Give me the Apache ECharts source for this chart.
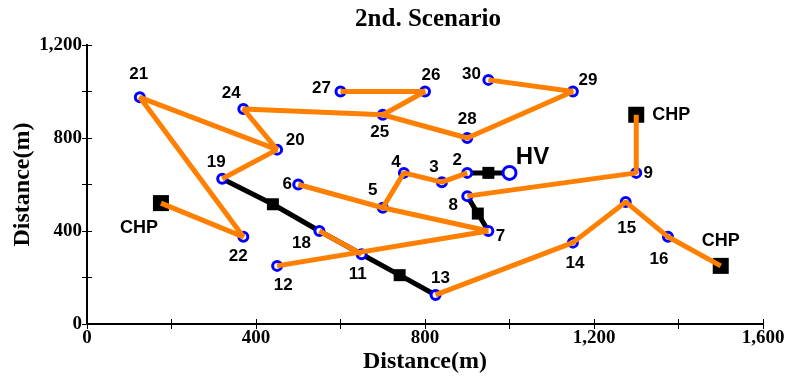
<!DOCTYPE html>
<html>
<head>
<meta charset="utf-8">
<script src="https://cdn.jsdelivr.net/npm/echarts@6/dist/echarts.min.js"></script>
<style>html,body{margin:0;padding:0;background:#fff}#c{width:787px;height:376px}</style>
</head>
<body>
<div id="c"></div>
<script>
// ---- data ----
var nodeNames = ['2','3','4','5','6','7','8','9','11','12','13','14','15','16','18','19','20','21','22','24','25','26','27','28','29','30'];
var nodeX = [900,840,750,700,500,950,900,1300,650,450,825,1150,1275,1375,550,320,450,125,370,370,700,800,600,900,1150,950];
var nodeY = [650,610,650,500,600,400,550,650,300,250,125,350,525,375,400,625,750,975,375,925,900,1000,1000,800,1000,1050];
var hvName = 'HV';
var hvPoint = [1000, 650];
var chpNames = ['CHP_L','CHP_U','CHP_R'];
var chpX = [175,1300,1500];
var chpY = [520,900,250];
var junctionX = [440,740,950,925];
var junctionY = [515,210,650,475];
var orangePaths = [
  ['CHP_L','22','21','20','24','25','26','27'],
  ['25','28','29','30'],
  ['20','19'],
  ['18','11'],
  ['12','7'],
  ['6','5','7'],
  ['5','4','3','2'],
  ['13','14','15','16','CHP_R'],
  ['8','9','CHP_U']
];
var blackPaths = [
  ['19','J0','18','11','J1','13'],
  ['2','J2','HV'],
  ['8','J3','7']
];
var xTicks = [0,400,800,1200,1600];
var yTicks = [0,400,800,1200];

// ---- label placement (pixel offsets) ----
var labelOffset = {
  '21':[-1,-23],'24':[-12,-16],'27':[-19,-3],'26':[6,-16],'25':[-3,18],'20':[18,-9],'19':[-6,-16],
  '6':[-11,0],'5':[-10,-17],'4':[-8,-11],'3':[-8,-15],'2':[-10,-13],'HV':[23,-16],'30':[-17,-6],
  '29':[15,-11],'28':[0,-19],'9':[12,0],'8':[-14,9],'7':[12,5],'15':[1,26],'14':[2,21],'16':[-9,22],
  '13':[5,-17],'18':[-18,12],'11':[-4,20],'12':[6,19],'22':[-5,19],
  'CHP_U':[35,0],'CHP_R':[0,-25],'CHP_L':[-22,25]
};

// ---- build ----
var pos = {};
nodeNames.forEach(function(n,i){ pos[n] = [nodeX[i], nodeY[i]]; });
pos[hvName] = hvPoint;
chpNames.forEach(function(n,i){ pos[n] = [chpX[i], chpY[i]]; });
junctionX.forEach(function(x,i){ pos['J'+i] = [x, junctionY[i]]; });

var series = [];
var ORANGE = '#FF8000';
var lblBase = {show:true, position:'inside', color:'#000', fontFamily:'Liberation Sans', fontWeight:'bold', opacity:1};
blackPaths.forEach(function(p){
  series.push({type:'line', data:p.map(function(n){return pos[n];}), showSymbol:false, symbol:'none',
    lineStyle:{color:'#000', width:5, opacity:1}, z:1, silent:true, animation:false});
});
series.push({type:'scatter', symbol:'rect', symbolSize:12, z:2, animation:false, silent:true,
  itemStyle:{color:'#000', opacity:1},
  data: junctionX.map(function(x,i){return [x, junctionY[i]];})});
series.push({type:'scatter', symbol:'rect', symbolSize:16, z:2, animation:false, silent:true,
  itemStyle:{color:'#000', opacity:1},
  data: chpNames.map(function(n,i){return {value:[chpX[i],chpY[i]],
    label:{show:true, formatter:'CHP', offset:labelOffset[n]}};}),
  label:Object.assign({fontSize:18}, lblBase)
});
series.push({type:'scatter', symbol:'circle', symbolSize:9, z:3, animation:false, silent:true,
  itemStyle:{color:'#fff', borderColor:'#0000FF', borderWidth:3, opacity:1},
  data: nodeNames.map(function(n,i){return {value:[nodeX[i],nodeY[i]], name:n,
    label:{offset:labelOffset[n]}};}),
  label:Object.assign({formatter:'{b}', fontSize:17}, lblBase)
});
series.push({type:'scatter', symbol:'circle', symbolSize:13, z:3, animation:false, silent:true,
  itemStyle:{color:'#fff', borderColor:'#0000FF', borderWidth:3, opacity:1},
  data:[{value:hvPoint, name:hvName, label:{offset:labelOffset[hvName]}}],
  label:Object.assign({formatter:'{b}', fontSize:24}, lblBase)
});
orangePaths.forEach(function(p){
  series.push({type:'line', data:p.map(function(n){return pos[n];}), showSymbol:false, symbol:'none',
    lineStyle:{color:ORANGE, width:5, opacity:1}, z:4, silent:true, animation:false});
});

var tickFont = {fontFamily:'Liberation Serif', fontWeight:'bold', fontSize:19, color:'#000'};
function fmt(v){ return v.toLocaleString('en-US'); }
function axisBase(){
  return {type:'value', axisLine:{show:true, lineStyle:{color:'#000', width:2}},
    axisTick:{show:true, inside:true, length:5, lineStyle:{color:'#000', width:1}},
    splitLine:{show:false}};
}
var xa = axisBase(); xa.min=0; xa.max=1600; xa.interval=200; xa.position='bottom';
xa.axisLabel = Object.assign({margin:5, formatter:function(v){return xTicks.indexOf(v)>=0?fmt(v):'';}}, tickFont);
xa.name='Distance(m)'; xa.nameLocation='middle'; xa.nameGap=26; xa.nameMoveOverlap=false;
xa.nameTextStyle={fontFamily:'Liberation Serif', fontWeight:'bold', fontSize:24, color:'#000'};
var xt = axisBase(); xt.min=0; xt.max=1600; xt.interval=200; xt.position='top'; xt.axisLabel={show:false};
var ya = axisBase(); ya.min=0; ya.max=1200; ya.interval=200; ya.position='left';
ya.axisLabel = Object.assign({margin:5, formatter:function(v){return yTicks.indexOf(v)>=0?fmt(v):'';}}, tickFont);
ya.name='Distance(m)'; ya.nameLocation='middle'; ya.nameGap=52; ya.nameMoveOverlap=false;
ya.nameTextStyle={fontFamily:'Liberation Serif', fontWeight:'bold', fontSize:24, color:'#000'};
var yr = axisBase(); yr.min=0; yr.max=1200; yr.interval=200; yr.position='right'; yr.axisLabel={show:false};

var chart = echarts.init(document.getElementById('c'), null, {renderer:'canvas'});
chart.setOption({
  animation:false,
  backgroundColor:'#fff',
  title:{text:'2nd. Scenario', left:423, top:2, textAlign:'center',
    textStyle:{fontFamily:'Liberation Serif', fontWeight:'bold', fontSize:25, color:'#000'}},
  grid:{left:87, right:24, top:45, bottom:52, containLabel:false, outerBoundsMode:'none'},
  xAxis:[xa, xt],
  yAxis:[ya, yr],
  series:series
});
</script>
</body>
</html>
